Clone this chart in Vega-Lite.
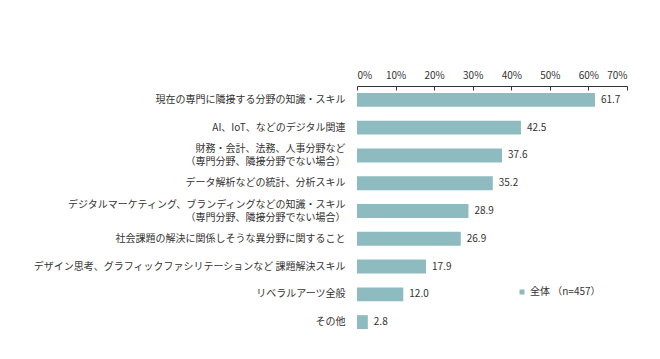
{
  "$schema": "https://vega.github.io/schema/vega-lite/v6.json",
  "autosize": {"type": "none"},
  "width": 270,
  "height": 250,
  "padding": {"left": 357, "top": 86, "right": 33, "bottom": 23},
  "background": "white",
  "config": {
    "view": {"stroke": null},
    "font": "Noto Sans CJK JP"
  },
  "data": {
    "values": [
      {"item": "現在の専門に隣接する分野の知識・スキル", "value": 61.7, "series": "全体 （n=457）"},
      {"item": "AI、IoT、などのデジタル関連", "value": 42.5, "series": "全体 （n=457）"},
      {"item": "財務・会計、法務、人事分野など\n（専門分野、隣接分野でない場合）", "value": 37.6, "series": "全体 （n=457）"},
      {"item": "データ解析などの統計、分析スキル", "value": 35.2, "series": "全体 （n=457）"},
      {"item": "デジタルマーケティング、ブランディングなどの知識・スキル\n（専門分野、隣接分野でない場合）", "value": 28.9, "series": "全体 （n=457）"},
      {"item": "社会課題の解決に関係しそうな異分野に関すること", "value": 26.9, "series": "全体 （n=457）"},
      {"item": "デザイン思考、グラフィックファシリテーションなど 課題解決スキル", "value": 17.9, "series": "全体 （n=457）"},
      {"item": "リベラルアーツ全般", "value": 12.0, "series": "全体 （n=457）"},
      {"item": "その他", "value": 2.8, "series": "全体 （n=457）"}
    ]
  },
  "encoding": {
    "y": {
      "field": "item",
      "type": "nominal",
      "sort": null,
      "scale": {"paddingInner": 0.5, "paddingOuter": 0.25},
      "axis": {
        "title": null,
        "domain": false,
        "ticks": false,
        "labelPadding": 12,
        "labelFontSize": 10,
        "labelColor": "#333333",
        "labelLineHeight": 13,
        "labelLimit": 400,
        "labelOffset": {"condition": {"test": "indexof(datum.value, '\\n') >= 0", "value": -6.5}, "value": 0},
        "labelExpr": "split(datum.label, '\\n')"
      }
    },
    "x": {
      "field": "value",
      "type": "quantitative",
      "scale": {"domain": [0, 70], "nice": false},
      "axis": {
        "orient": "top",
        "title": null,
        "values": [0, 10, 20, 30, 40, 50, 60, 70],
        "labelExpr": "datum.value + '%'",
        "grid": false,
        "domainColor": "#333333",
        "tickColor": "#333333",
        "tickSize": -4,
        "labelPadding": 10,
        "labelFontSize": 10,
        "labelColor": "#333333"
      }
    }
  },
  "layer": [
    {
      "mark": {"type": "bar"},
      "encoding": {
        "color": {
          "field": "series",
          "type": "nominal",
          "scale": {"range": ["#8dbbbf"]},
          "legend": {
            "title": null,
            "orient": "none",
            "legendX": 160,
            "legendY": 201,
            "symbolType": "square",
            "symbolSize": 25,
            "labelFontSize": 10,
            "labelColor": "#333333",
            "labelOffset": 3
          }
        }
      }
    },
    {
      "mark": {"type": "text", "align": "left", "dx": 6, "fontSize": 10, "color": "#333333"},
      "encoding": {
        "text": {"field": "value", "type": "quantitative", "format": ".1f"}
      }
    }
  ]
}
